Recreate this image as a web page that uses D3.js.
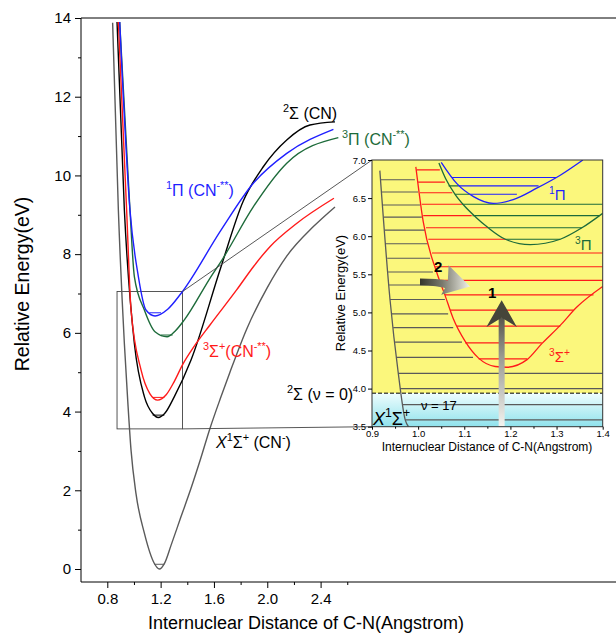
<!DOCTYPE html>
<html><head><meta charset="utf-8">
<script src="https://cdn.jsdelivr.net/npm/d3@7"></script>
<style>body{margin:0;background:#fff}svg{display:block}text{font-family:"Liberation Sans",Arial,sans-serif}</style>
</head><body><svg id="c" width="616" height="633"></svg>
<script>
// ---------------- DATA ----------------
const yTicks = [0, 2, 4, 6, 8, 10, 12, 14];
const yMinor = [1, 3, 5, 7, 9, 11, 13];
const xTicks = [0.8, 1.2, 1.6, 2.0, 2.4];
const xMinor = [1.0, 1.4, 1.8, 2.2, 2.6];

// main potential curves [r (Å), E (eV)]
const curveX1S = [[0.84,13.88],[0.883,9.12],[0.928,5.73],[0.953,4.29],[0.978,3.02],[1.015,1.92],[1.078,0.91],[1.153,0.14],[1.19,0.0],[1.23,0.15],[1.278,0.6],[1.35,1.3],[1.428,2.05],[1.5,2.8],[1.57,3.57],[1.65,4.35],[1.72,5.0],[1.846,6.1],[2.0,7.15],[2.146,7.95],[2.346,8.7],[2.508,9.20]];
const curve2S  = [[0.873,13.9],[0.928,9.12],[1.003,5.73],[1.078,4.38],[1.14,3.95],[1.183,3.85],[1.23,3.95],[1.303,4.38],[1.428,5.31],[1.653,7.68],[1.82,9.35],[1.97,10.22],[2.146,10.9],[2.32,11.28],[2.508,11.36]];
const curve3S  = [[0.883,13.9],[0.945,9.12],[0.978,6.58],[1.053,5.06],[1.12,4.45],[1.178,4.29],[1.24,4.42],[1.3,4.75],[1.366,5.2],[1.45,5.65],[1.57,6.2],[1.77,7.09],[1.9,7.7],[2.02,8.19],[2.22,8.78],[2.5,9.42]];
const curve3P  = [[0.893,13.9],[0.970,9.12],[1.003,7.43],[1.078,6.58],[1.16,6.02],[1.248,5.90],[1.31,6.05],[1.378,6.33],[1.578,7.43],[1.66,7.85],[1.895,9.2],[2.146,10.31],[2.533,10.96]];
const curve1P  = [[0.893,13.9],[0.970,9.12],[1.033,7.43],[1.09,6.58],[1.158,6.43],[1.253,6.6],[1.353,7.0],[1.653,8.61],[1.895,9.80],[2.146,10.56],[2.496,11.17]];
// v=0 levels in main plot: [state, E, r0, r1]
const mainLevels = [["X1S",0.12,1.153,1.228],["2S",3.91,1.14,1.228],["3S",4.36,1.14,1.228],["3P",5.945,1.203,1.29],["1P",6.51,1.115,1.203]];
// zoom box region [r0, r1, E0, E1]
const zoomBox = [0.873, 1.364, 3.56, 7.05];

// inset
const insetXTicks = [0.9, 1.0, 1.1, 1.2, 1.3, 1.4];
const insetXMinor = [0.95, 1.05, 1.15, 1.25, 1.35];
const insetYTicks = [3.5, 4.0, 4.5, 5.0, 5.5, 6.0, 6.5, 7.0];
const insetGray  = [[0.917,6.86],[0.939,5.17],[0.957,4.20],[0.972,3.59],[0.979,3.50]];
const insetRed   = [[0.995,6.91],[1.011,6.19],[1.040,5.53],[1.058,5.23],[1.076,4.92],[1.102,4.62],[1.131,4.40],[1.167,4.29],[1.192,4.28],[1.236,4.38],[1.268,4.59],[1.308,4.83],[1.344,5.07],[1.4,5.34]];
const insetGreen = [[1.045,6.96],[1.06,6.75],[1.08,6.55],[1.10,6.40],[1.125,6.25],[1.152,6.11],[1.189,5.96],[1.243,5.89],[1.308,5.96],[1.355,6.11],[1.4,6.30]];
const insetBlue  = [[1.05,6.97],[1.084,6.69],[1.12,6.52],[1.163,6.43],[1.206,6.48],[1.257,6.63],[1.308,6.80],[1.357,7.0]];
// vibrational levels [E, r0, r1]
const grayLevels = [[6.74,0.919,0.993],[6.58,0.921,1.0],[6.41,0.923,1.004],[6.25,0.926,1.008],[6.08,0.928,1.015],[5.90,0.930,1.021],[5.71,0.933,1.026],[5.53,0.935,1.032],[5.36,0.937,1.040],[5.17,0.939,1.058],[4.98,0.943,1.065],[4.80,0.946,1.076],[4.61,0.950,1.095],[4.41,0.953,1.119],[4.20,0.957,1.4],[4.00,0.961,1.4],[3.79,0.966,1.4],[3.59,0.972,1.4]];
const redLevels = [[6.87,0.997,1.047],[6.71,1.0,1.058],[6.57,1.004,1.074],[6.42,1.008,1.095],[6.27,1.011,1.116],[6.11,1.017,1.152],[5.96,1.022,1.189],[5.78,1.030,1.4],[5.60,1.037,1.4],[5.42,1.048,1.4],[5.23,1.058,1.38],[5.03,1.069,1.337],[4.82,1.084,1.308],[4.60,1.102,1.268],[4.39,1.131,1.236]];
const greenLevels = [[6.66,1.066,1.087],[6.55,1.08,1.112],[6.42,1.095,1.4],[6.27,1.118,1.393],[6.11,1.152,1.355],[5.96,1.189,1.308]];
const blueLevels = [[6.77,1.073,1.30],[6.66,1.087,1.261],[6.55,1.112,1.214]];
const groundE = 3.94; // dashed boundary

// ---------------- STYLE ----------------
const col = {X1S:"#5a5a5a","2S":"#000000","3S":"#ff1a1a","3P":"#1d6b3a","1P":"#1f1fff"};
const svg = d3.select("#c");
const defs = svg.append("defs");

const mx = d3.scaleLinear().domain([0.8, 2.4]).range([107.3, 320.6]);
const my = d3.scaleLinear().domain([0, 14]).range([569, 18]);
const line = (sx, sy) => d3.line().x(d => sx(d[0])).y(d => sy(d[1])).curve(d3.curveMonotoneX);

// frame
svg.append("line").attr("x1",81).attr("x2",81).attr("y1",18).attr("y2",582).attr("stroke","#000").attr("stroke-width",1);
svg.append("line").attr("x1",81).attr("x2",616).attr("y1",582).attr("y2",582).attr("stroke","#000").attr("stroke-width",1);
svg.append("line").attr("x1",81).attr("x2",616).attr("y1",18).attr("y2",18).attr("stroke","#000").attr("stroke-width",1);

// y axis
const gy = svg.append("g").attr("transform","translate(81,0)");
gy.call(d3.axisLeft(my).tickValues(yTicks).tickSize(6).tickPadding(4).tickFormat(d3.format("d")));
gy.append("g").call(d3.axisLeft(my).tickValues(yMinor).tickSize(3).tickFormat(""));
gy.selectAll(".domain").remove();
gy.selectAll("text").attr("font-size",15).attr("font-family","Liberation Sans, Arial").attr("fill","#000");
// x axis
const gx = svg.append("g").attr("transform","translate(0,582)");
gx.call(d3.axisBottom(mx).tickValues(xTicks).tickSize(6).tickPadding(5).tickFormat(d3.format(".1f")));
gx.append("g").call(d3.axisBottom(mx).tickValues(xMinor).tickSize(3).tickFormat(""));
gx.selectAll(".domain").remove();
gx.selectAll("text").attr("font-size",15).attr("font-family","Liberation Sans, Arial").attr("fill","#000");

svg.append("text").attr("transform","translate(29,284) rotate(-90)").attr("text-anchor","middle").attr("font-size",19.5).text("Relative Energy(eV)");
svg.append("text").attr("x",306).attr("y",629).attr("text-anchor","middle").attr("font-size",18).text("Internuclear Distance of C-N(Angstrom)");

// zoom box
const zb = svg.append("g").attr("stroke","#444").attr("stroke-width",0.9).attr("fill","none");
zb.append("rect").attr("x",mx(zoomBox[0])).attr("y",my(zoomBox[3])).attr("width",mx(zoomBox[1])-mx(zoomBox[0])).attr("height",my(zoomBox[2])-my(zoomBox[3]));

// main curves
const mainCurves = [["X1S",curveX1S],["2S",curve2S],["3S",curve3S],["3P",curve3P],["1P",curve1P]];
svg.append("g").selectAll("path").data(mainCurves).join("path")
  .attr("d", d => line(mx,my)(d[1])).attr("fill","none")
  .attr("stroke", d => col[d[0]]).attr("stroke-width",1.4);
svg.append("g").selectAll("line").data(mainLevels).join("line")
  .attr("x1",d=>mx(d[2])).attr("x2",d=>mx(d[3])).attr("y1",d=>my(d[1])).attr("y2",d=>my(d[1]))
  .attr("stroke",d=>col[d[0]]).attr("stroke-width",1);

// rich text helper
function rich(x, y, parts, size, color, anchor) {
  const t = svg.append("text").attr("x",x).attr("y",y).attr("font-size",size).attr("fill",color);
  if (anchor) t.attr("text-anchor",anchor);
  let shift = 0;
  parts.forEach(p => {
    const [s, sup, it, bold] = p;
    const sp = t.append("tspan").text(s);
    const target = sup ? -size*0.42 : 0;
    sp.attr("dy", target - shift); shift = target;
    if (sup) sp.attr("font-size", size*0.68);
    if (it) sp.attr("font-style","italic");
    if (bold) sp.attr("font-weight","bold");
  });
  return t;
}
rich(283,119,[["2",1],["Σ (CN)"]],16,"#000");
rich(342,145,[["3",1],["Π (CN"],["-**",1],[")"]],16,col["3P"]);
rich(166,196,[["1",1],["Π (CN"],["-**",1],[")"]],16,col["1P"]);
rich(203,357,[["3",1],["Σ"],["+",1],["(CN"],["-**",1],[")"]],16,col["3S"]);
rich(287,400,[["2",1],["Σ (ν = 0)"]],16,"#000");
rich(216,448,[["X",0,1],["1",1],["Σ"],["+",1],[" (CN"],["-",1],[")"]],16,"#000");

// ---------------- INSET ----------------
const ix = d3.scaleLinear().domain([0.9, 1.4]).range([372, 602.7]);
const iy = d3.scaleLinear().domain([3.5, 7.0]).range([426.7, 160]);

// connectors
svg.append("line").attr("x1",mx(zoomBox[1])).attr("y1",my(zoomBox[3])).attr("x2",ix(0.9)).attr("y2",iy(7.0)).attr("stroke","#444").attr("stroke-width",0.9);
svg.append("line").attr("x1",mx(zoomBox[1])).attr("y1",my(zoomBox[2])).attr("x2",ix(0.9)).attr("y2",iy(3.5)).attr("stroke","#444").attr("stroke-width",0.9);

const cyanG = defs.append("linearGradient").attr("id","cyan").attr("x1",0).attr("x2",0).attr("y1",0).attr("y2",1);
cyanG.append("stop").attr("offset","0%").attr("stop-color","#effdfe");
cyanG.append("stop").attr("offset","100%").attr("stop-color","#8fe2ec");
defs.append("clipPath").attr("id","iclip").append("rect").attr("x",ix(0.9)).attr("y",iy(7.0)).attr("width",ix(1.4)-ix(0.9)).attr("height",iy(3.5)-iy(7.0));

const ins = svg.append("g");
ins.append("rect").attr("x",ix(0.9)).attr("y",iy(7.0)).attr("width",ix(1.4)-ix(0.9)).attr("height",iy(groundE)-iy(7.0)).attr("fill","#fbf77c");
ins.append("rect").attr("x",ix(0.9)).attr("y",iy(groundE)).attr("width",ix(1.4)-ix(0.9)).attr("height",iy(3.5)-iy(groundE)).attr("fill","url(#cyan)");

const ic = ins.append("g").attr("clip-path","url(#iclip)");
const lvl = (data, color) => ic.append("g").selectAll("line").data(data).join("line")
  .attr("x1",d=>ix(d[1])).attr("x2",d=>ix(d[2])).attr("y1",d=>iy(d[0])).attr("y2",d=>iy(d[0]))
  .attr("stroke",color).attr("stroke-width",1.1);
lvl(grayLevels,"#5a5a5a");
lvl(redLevels,"#ff1a1a");
lvl(greenLevels,col["3P"]);
lvl(blueLevels,col["1P"]);
ic.append("line").attr("x1",ix(0.9)).attr("x2",ix(1.4)).attr("y1",iy(groundE)).attr("y2",iy(groundE)).attr("stroke","#000").attr("stroke-dasharray","4,2").attr("stroke-width",1);
[[insetGray,"#5a5a5a"],[insetRed,"#ff1a1a"],[insetGreen,col["3P"]],[insetBlue,col["1P"]]].forEach(([d,c]) =>
  ic.append("path").attr("d",line(ix,iy)(d)).attr("fill","none").attr("stroke",c).attr("stroke-width",1.3));

// arrows (data coordinates)
const arrow1 = {r:1.181, E0:3.5, Ebase:4.81, Enotch:4.93, Etip:5.16, half:0.033, shaft:0.0065};
const g1 = defs.append("linearGradient").attr("id","a1").attr("gradientUnits","userSpaceOnUse").attr("x1",0).attr("x2",0).attr("y1",iy(3.5)).attr("y2",iy(arrow1.Etip));
g1.append("stop").attr("offset","0%").attr("stop-color","#f4f4f0");
g1.append("stop").attr("offset","55%").attr("stop-color","#9a9a92");
g1.append("stop").attr("offset","100%").attr("stop-color","#3a3a2e");
ic.append("rect").attr("x",ix(arrow1.r-arrow1.shaft)).attr("width",ix(arrow1.r+arrow1.shaft)-ix(arrow1.r-arrow1.shaft))
  .attr("y",iy(arrow1.Enotch)).attr("height",iy(arrow1.E0)-iy(arrow1.Enotch)).attr("fill","url(#a1)");
ic.append("path").attr("d",`M${ix(arrow1.r)},${iy(arrow1.Etip)} L${ix(arrow1.r+arrow1.half)},${iy(arrow1.Ebase)} L${ix(arrow1.r)},${iy(arrow1.Enotch)} L${ix(arrow1.r-arrow1.half)},${iy(arrow1.Ebase)} Z`).attr("fill","#45453a");

const arrow2 = {r0:1.004, rb:1.058, rt:1.1125, E:5.40, Etip:5.34, Etop:5.62, Ebot:5.23, hw:0.045};
const g2 = defs.append("linearGradient").attr("id","a2").attr("gradientUnits","userSpaceOnUse").attr("x1",ix(arrow2.r0)).attr("x2",ix(arrow2.rt)).attr("y1",0).attr("y2",0);
g2.append("stop").attr("offset","0%").attr("stop-color","#35352c");
g2.append("stop").attr("offset","45%").attr("stop-color","#7a7a6e");
g2.append("stop").attr("offset","100%").attr("stop-color","#f2f2ea");
ic.append("path").attr("d",`M${ix(arrow2.r0)},${iy(arrow2.E+arrow2.hw)} Q${ix(1.04)},${iy(arrow2.E+arrow2.hw)} ${ix(arrow2.rb+0.01)},${iy(arrow2.E+arrow2.hw-0.03)} L${ix(arrow2.rb+0.01)},${iy(arrow2.E-arrow2.hw-0.05)} Q${ix(1.04)},${iy(arrow2.E-arrow2.hw)} ${ix(arrow2.r0)},${iy(arrow2.E-arrow2.hw)} Z`).attr("fill","url(#a2)");
ic.append("path").attr("d",`M${ix(arrow2.rb+0.008)},${iy(arrow2.Etop)} L${ix(arrow2.rt)},${iy(arrow2.Etip)} L${ix(arrow2.rb-0.008)},${iy(arrow2.Ebot)} L${ix(arrow2.rb+0.006)},${iy(arrow2.E-0.02)} Z`).attr("fill","url(#a2)");

// inset frame & axes
ins.append("rect").attr("x",ix(0.9)).attr("y",iy(7.0)).attr("width",ix(1.4)-ix(0.9)).attr("height",iy(3.5)-iy(7.0)).attr("fill","none").attr("stroke","#333").attr("stroke-width",1);
const igy = ins.append("g").attr("transform",`translate(${ix(0.9)},0)`);
igy.call(d3.axisLeft(iy).tickValues(insetYTicks).tickSize(4).tickPadding(2).tickFormat(d3.format(".1f")));
igy.selectAll(".domain").remove();
igy.selectAll("text").attr("font-size",9.5).attr("fill","#000").attr("font-family","Liberation Sans, Arial");
const igx = ins.append("g").attr("transform",`translate(0,${iy(3.5)})`);
igx.call(d3.axisBottom(ix).tickValues(insetXTicks).tickSize(3).tickPadding(1).tickFormat(d3.format(".1f")));
igx.append("g").call(d3.axisBottom(ix).tickValues(insetXMinor).tickSize(2).tickFormat(""));
igx.selectAll(".domain").remove();
igx.selectAll("text").attr("font-size",9.5).attr("fill","#000").attr("font-family","Liberation Sans, Arial");
svg.append("text").attr("transform","translate(345,293) rotate(-90)").attr("text-anchor","middle").attr("font-size",13).text("Relative Energy(eV)");
svg.append("text").attr("x",487).attr("y",451).attr("text-anchor","middle").attr("font-size",12).text("Internuclear Distance of C-N(Angstrom)");

// inset labels
rich(549,200,[["1",1],["Π"]],15,col["1P"]);
rich(575,250,[["3",1],["Π"]],15,col["3P"]);
rich(549,362,[["3",1],["Σ"],["+",1]],15,"#ff1a1a");
rich(373,425,[["X",0,1],["1",1],["Σ"],["+",1]],18,"#000");
rich(421,410,[["ν = 17"]],13,"#000");
rich(434,272,[["2",0,0,1]],15,"#000");
rich(488,298,[["1",0,0,1]],15,"#000");
</script></body></html>
